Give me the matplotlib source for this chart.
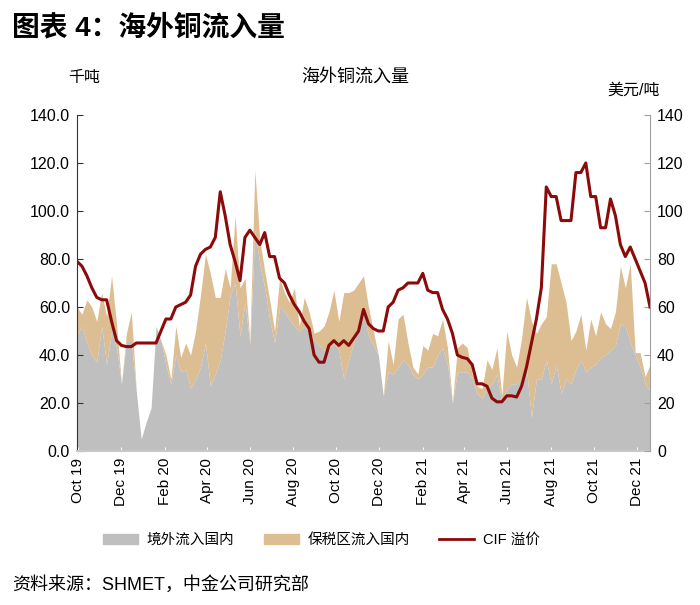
import numpy as np
import pandas as pd
import matplotlib
matplotlib.use("Agg")
import matplotlib.pyplot as plt
import matplotlib.dates as mdates
from matplotlib.patches import Patch
from matplotlib.lines import Line2D

plt.rcParams['font.family'] = ['Liberation Sans', 'Noto Sans CJK SC', 'DejaVu Sans']

# weekly data, Oct 2019 - Dec 2021
dates = pd.date_range('2019-09-30', periods=117, freq='7D')

# 境外流入国内 (千吨)
overseas = [48, 52, 45, 40, 37, 52, 36, 50, 43, 28, 46, 46, 25, 5, 12, 18, 52, 46, 36, 28,
            40, 33, 34, 26, 30, 35, 45, 27, 32, 38, 50, 65, 70, 48, 62, 44, 92, 78, 68, 55,
            45, 60, 58, 55, 52, 50, 52, 50, 46, 44, 42, 43, 45, 42, 30, 38, 45, 52, 58, 48,
            44, 40, 23, 33, 32, 35, 38, 36, 32, 30, 32, 35, 35, 40, 43, 36, 20, 33, 33, 33,
            30, 24, 22, 26, 28, 32, 20, 26, 28, 28, 30, 34, 14, 30, 30, 38, 28, 36, 24, 30,
            28, 34, 38, 33, 35, 36, 39, 40, 42, 44, 53, 52, 45, 40, 35, 28, 25]

# 境外 + 保税区 total top (千吨)
total = [60, 57, 63, 60, 54, 66, 56, 73, 53, 28, 49, 58, 25, 5, 12, 18, 52, 46, 40, 30,
         52, 39, 45, 40, 50, 65, 82, 74, 64, 64, 76, 68, 98, 68, 72, 46, 117, 88, 75, 63,
         50, 72, 66, 62, 68, 52, 64, 58, 49, 50, 52, 58, 67, 54, 66, 66, 67, 70, 73, 60,
         50, 40, 23, 46, 36, 55, 57, 45, 35, 32, 44, 42, 49, 48, 55, 43, 20, 43, 45, 43,
         32, 27, 26, 38, 34, 43, 23, 50, 40, 35, 47, 64, 54, 49, 53, 56, 78, 78, 70, 62,
         46, 50, 57, 42, 55, 48, 58, 53, 51, 58, 77, 68, 78, 41, 41, 31, 36]

bonded = [t - g for t, g in zip(total, overseas)]

# CIF 溢价 (美元/吨)
cif = [79, 77, 73, 68, 64, 63, 63, 54, 46, 44, 43.5, 43.5, 45, 45, 45, 45, 45, 50, 55, 55,
       60, 61, 62, 65, 77, 82, 84, 85, 89, 108, 98, 86, 79, 71, 89, 92, 89, 86, 91, 81,
       81, 72, 70, 65, 61, 58, 54, 51, 40, 37, 37, 44, 46, 44, 46, 44, 47, 50, 59, 53,
       51, 50, 50, 60, 62, 67, 68, 70, 70, 70, 74, 67, 66, 66, 59, 55, 49, 40, 39, 38.5,
       36, 28, 28, 27, 22, 20.5, 20.5, 23, 23, 22.5, 27, 35, 45, 55, 68, 110, 106, 106, 96, 96,
       96, 116, 116, 120, 106, 106, 93, 93, 105, 98, 86, 81, 85, 80, 75, 70, 60]

c_gray = '#BFBFBF'
c_tan = '#DDBD92'
c_red = '#8B0A0A'

fig = plt.figure(figsize=(7, 6.05), dpi=100)
ax = fig.add_axes([0.11, 0.2545, 0.8186, 0.5555])

ax.fill_between(dates, 0, overseas, color=c_gray, lw=0)
ax.fill_between(dates, overseas, total, color=c_tan, lw=0)
ax.set_ylim(0, 140)
ax.set_yticks(np.arange(0, 141, 20))
ax.set_yticklabels(['%.1f' % v for v in np.arange(0, 141, 20)], fontsize=11.5)
ax.set_xlim(dates[0], dates[-1])
ax.xaxis.set_major_locator(mdates.MonthLocator(bymonth=[2, 4, 6, 8, 10, 12]))
ax.xaxis.set_major_formatter(mdates.DateFormatter('%b %y'))
plt.setp(ax.get_xticklabels(), rotation=90, fontsize=11)
ax.tick_params(axis='y', direction='in', length=4, color='#333333', pad=5)
ax.tick_params(axis='x', direction='in', length=3, color='white', pad=5)
for s in ['top', 'right']:
    ax.spines[s].set_visible(False)
ax.spines['left'].set_color('#333333')
ax.spines['bottom'].set_color('#C8C8C8')
ax.spines['bottom'].set_linewidth(1.5)

ax2 = ax.twinx()
ax2.plot(dates, cif, color=c_red, lw=2.2)
ax2.set_ylim(0, 140)
ax2.set_yticks(np.arange(0, 141, 20))
ax2.tick_params(axis='y', direction='in', length=4, color='#A0A0A0', labelsize=11.5, pad=5)
for s in ['top', 'left', 'bottom']:
    ax2.spines[s].set_visible(False)
ax2.spines['right'].set_color('#A0A0A0')

fig.text(0.017, 0.953, '图表 4：海外铜流入量', fontsize=20, fontweight='bold', va='center')
fig.text(0.507, 0.873, '海外铜流入量', fontsize=13, ha='center', va='center')
fig.text(0.12, 0.872, '千吨', fontsize=11.5, ha='center', va='center')
fig.text(0.905, 0.851, '美元/吨', fontsize=11.5, ha='center', va='center')
fig.text(0.017, 0.033, '资料来源：SHMET，中金公司研究部', fontsize=13, va='center')

handles = [Patch(color=c_gray), Patch(color=c_tan), Line2D([], [], color=c_red, lw=2)]
labels = ['境外流入国内', '保税区流入国内', 'CIF 溢价']
fig.legend(handles, labels, loc='center', bbox_to_anchor=(0.459, 0.107), ncol=3,
           frameon=False, fontsize=10.5, handlelength=2.4, handleheight=0.6,
           columnspacing=2.0, handletextpad=0.6)

fig.savefig('out.png', dpi=100)
